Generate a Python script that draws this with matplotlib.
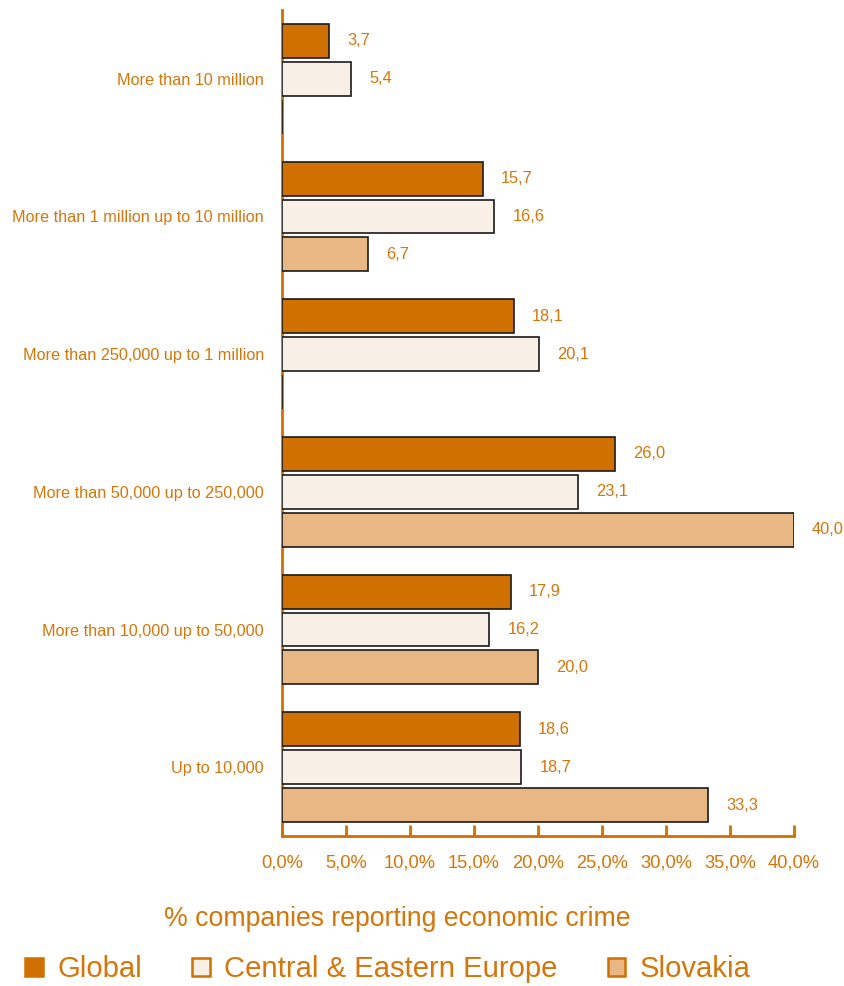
import matplotlib

matplotlib.use("Agg")
import matplotlib.pyplot as plt
import numpy as np
from matplotlib.patches import Patch

plt.rcParams["font.family"] = ["Liberation Sans", "DejaVu Sans"]

ORANGE = "#D07000"
TEXT = "#D4760A"

categories = [
    "More than 10 million",
    "More than 1 million up to 10 million",
    "More than 250,000 up to 1 million",
    "More than 50,000 up to 250,000",
    "More than 10,000 up to 50,000",
    "Up to 10,000",
]
series_names = ["Global", "Central & Eastern Europe", "Slovakia"]
global_vals = [3.7, 15.7, 18.1, 26.0, 17.9, 18.6]
cee_vals = [5.4, 16.6, 20.1, 23.1, 16.2, 18.7]
slovakia_vals = [0.0, 6.7, 0.0, 40.0, 20.0, 33.3]
colors = ["#D07000", "#F8F0E6", "#E8B784"]
xticks = [0, 5, 10, 15, 20, 25, 30, 35, 40]

fig = plt.figure(figsize=(8.45, 9.86), dpi=100)
ax = fig.add_axes([0.3337, 0.1521, 0.6059, 0.8378])

y = np.arange(len(categories))
step = 0.275
height = 0.246
for k, (vals, color) in enumerate(zip([global_vals, cee_vals, slovakia_vals], colors)):
    pos = y + (k - 1) * step
    ax.barh(pos, vals, height=height, color=color, edgecolor="#1a1a1a",
            linewidth=1.2, zorder=3)
    for yi, v in zip(pos, vals):
        if v == 0:
            continue
        ax.annotate(f"{v:.1f}".replace(".", ","), (v, yi), xytext=(13, 0),
                    textcoords="offset points", ha="left", va="center",
                    color=TEXT, fontsize=11.8)

ax.set_xlim(0, 40)
ax.set_ylim(5.5, -0.5)
ax.set_yticks(y, categories)
ax.set_xticks(xticks, [f"{t:.1f}%".replace(".", ",") for t in xticks])
ax.tick_params(axis="y", length=0, pad=13, labelcolor=TEXT, labelsize=11.7)
ax.tick_params(axis="x", direction="in", length=8, width=2, color=ORANGE,
               labelcolor=TEXT, labelsize=13.2, pad=13)
for side in ("top", "right"):
    ax.spines[side].set_visible(False)
for side in ("left", "bottom"):
    ax.spines[side].set_color(ORANGE)
    ax.spines[side].set_linewidth(2)
ax.set_xlabel("% companies reporting economic crime", color=TEXT, fontsize=19.2,
              va="center")
ax.xaxis.set_label_coords(0.225, -0.1)

handles = [Patch(facecolor=c, edgecolor=ORANGE, linewidth=1.8) for c in colors]
fig.legend(handles, series_names, loc="center left", bbox_to_anchor=(0.03, 0.017),
           ncol=3, frameon=False, fontsize=21.1, labelcolor=TEXT,
           borderpad=0, borderaxespad=0,
           handlelength=0.6, handleheight=0.6, handletextpad=0.5, columnspacing=1.7)

fig.savefig("out.png", dpi=100)
